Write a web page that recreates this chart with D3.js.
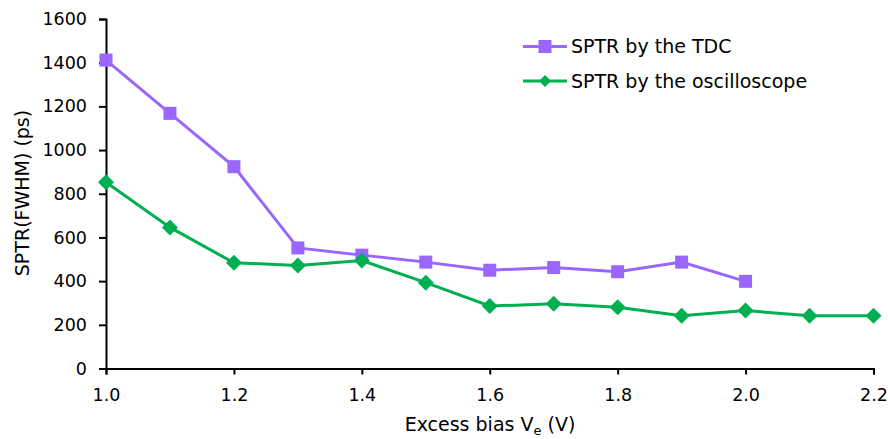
<!DOCTYPE html>
<html><head><meta charset="utf-8">
<script src="https://cdn.jsdelivr.net/npm/d3@7"></script>
<style>
body{margin:0;background:#fff;}
text{font-family:"DejaVu Sans",sans-serif;fill:#000;}
</style></head>
<body><svg id="c" width="888" height="439"></svg>
<script>
const xValues = [1.0,1.1,1.2,1.3,1.4,1.5,1.6,1.7,1.8,1.9,2.0,2.1,2.2];
const tdcValues = [1412,1168,924,552,519,487,450,462,443,487,399];
const oscValues = [853,646,484,472,494,393,286,296,280,242,265,242,242];
const seriesNames = ["SPTR by the TDC","SPTR by the oscilloscope"];
const xTicks = [1.0,1.2,1.4,1.6,1.8,2.0,2.2];
const yTicks = [0,200,400,600,800,1000,1200,1400,1600];

const svg = d3.select("#c");
const x = d3.scaleLinear().domain([1.0,2.2]).range([106,873.5]);
const y = d3.scaleLinear().domain([0,1600]).range([368.5,19]);

const fsTick = 17.5, fsLab = 19;
const xAxis = svg.append("g").attr("transform","translate(0,"+y(0)+")")
  .call(d3.axisBottom(x).tickValues(xTicks).tickFormat(d3.format(".1f")).tickSizeOuter(0).tickSize(6).tickPadding(14));
const yAxis = svg.append("g").attr("transform","translate("+x(1.0)+",0)")
  .call(d3.axisLeft(y).tickValues(yTicks).tickFormat(d3.format("d")).tickSizeOuter(0).tickSize(7).tickPadding(12));
[xAxis,yAxis].forEach(g=>{
  g.selectAll("path").attr("stroke","#000").attr("stroke-width",2);
  g.selectAll("line").attr("stroke","#000").attr("stroke-width",2);
  g.selectAll("text").attr("font-size",fsTick).attr("font-family","DejaVu Sans, sans-serif");
});

const line = d3.line().x((d,i)=>x(xValues[i])).y(d=>y(d));
const purple="#9966FF", green="#00B050";
svg.append("path").datum(oscValues).attr("d",line).attr("fill","none").attr("stroke",green).attr("stroke-width",3);
svg.append("path").datum(tdcValues).attr("d",line).attr("fill","none").attr("stroke",purple).attr("stroke-width",3);

const sq = 13, dm = 8;
svg.selectAll(".sq").data(tdcValues).enter().append("rect")
  .attr("x",(d,i)=>x(xValues[i])-sq/2).attr("y",d=>y(d)-sq/2).attr("width",sq).attr("height",sq).attr("fill",purple);
svg.selectAll(".dm").data(oscValues).enter().append("path")
  .attr("d",(d,i)=>{const cx=x(xValues[i]),cy=y(d);return `M${cx},${cy-dm}L${cx+dm},${cy}L${cx},${cy+dm}L${cx-dm},${cy}Z`;})
  .attr("fill",green);

// legend
const lg = svg.append("g");
const rows = [{n:seriesNames[0],c:purple,m:"sq",yy:46.5},{n:seriesNames[1],c:green,m:"dm",yy:81}];
rows.forEach(r=>{
  lg.append("line").attr("x1",523).attr("x2",567).attr("y1",r.yy).attr("y2",r.yy).attr("stroke",r.c).attr("stroke-width",3);
  if(r.m==="sq") lg.append("rect").attr("x",545-6.5).attr("y",r.yy-6.5).attr("width",13).attr("height",13).attr("fill",r.c);
  else lg.append("path").attr("d",`M545,${r.yy-6}L551,${r.yy}L545,${r.yy+6}L539,${r.yy}Z`).attr("fill",r.c);
  lg.append("text").attr("x",571).attr("y",r.yy).attr("dy","0.36em").attr("font-size",fsLab).text(r.n);
});

// axis titles
const xt = svg.append("text").attr("x",490).attr("y",431).attr("text-anchor","middle").attr("font-size",fsLab);
xt.append("tspan").text("Excess bias V");
xt.append("tspan").attr("font-size",13).attr("dy",4).text("e");
xt.append("tspan").attr("dy",-4).text(" (V)");
svg.append("text").attr("transform","translate(29,193) rotate(-90)").attr("text-anchor","middle").attr("font-size",fsLab).text("SPTR(FWHM) (ps)");
</script></body></html>
